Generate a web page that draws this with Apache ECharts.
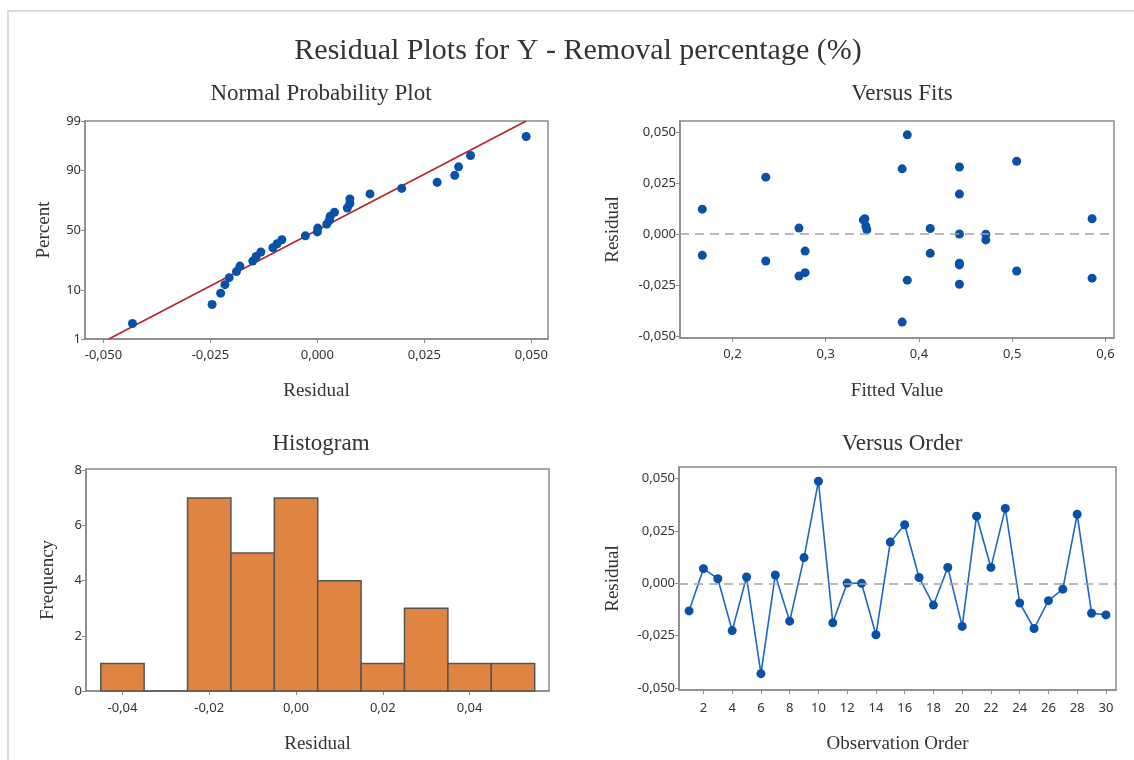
<!DOCTYPE html>
<html>
<head>
<meta charset="utf-8">
<title>Residual Plots for Y - Removal percentage (%)</title>
<script src="https://cdn.jsdelivr.net/npm/echarts@6/dist/echarts.min.js"></script>
<style>
  html, body { margin: 0; padding: 0; background: #ffffff; }
  #chart { width: 1134px; height: 760px; }
</style>
</head>
<body>
<div id="chart"></div>
<script>
// ---- data ----
const observationOrder = [1, 2, 3, 4, 5, 6, 7, 8, 9, 10, 11, 12, 13, 14, 15, 16, 17, 18, 19, 20, 21, 22, 23, 24, 25, 26, 27, 28, 29, 30];
const residuals = [-0.0132, 0.0070, 0.0022, -0.0226, 0.0030, -0.0432, 0.0040, -0.0181, 0.0123, 0.0488,
                   -0.0189, 0.0001, 0.0000, -0.0246, 0.0197, 0.0280, 0.0028, -0.0104, 0.0076, -0.0206,
                   0.0321, 0.0076, 0.0358, -0.0094, -0.0216, -0.0083, -0.0028, 0.0330, -0.0143, -0.0151];
const fittedValues = [0.2357, 0.3404, 0.3441, 0.3875, 0.2713, 0.3820, 0.3430, 0.5048, 0.1676, 0.3875,
                      0.2779, 0.4434, 0.4717, 0.4434, 0.4434, 0.2357, 0.4121, 0.1676, 0.5857, 0.2713,
                      0.3820, 0.3420, 0.5048, 0.4121, 0.5857, 0.2779, 0.4717, 0.4434, 0.4434, 0.4434];
const histBinCenters = [-0.04, -0.03, -0.02, -0.01, 0.00, 0.01, 0.02, 0.03, 0.04, 0.05];
const histCounts = [1, 0, 7, 5, 7, 4, 1, 3, 1, 1];
const histBinWidth = 0.01;

// tick labels
const probPercentTicks = [1, 10, 50, 90, 99];
const probResidualTicks = [-0.05, -0.025, 0, 0.025, 0.05];
const fitsTicks = [0.2, 0.3, 0.4, 0.5, 0.6];
const residualTicks = [-0.05, -0.025, 0, 0.025, 0.05];
const histResidualTicks = [-0.04, -0.02, 0, 0.02, 0.04];
const frequencyTicks = [0, 2, 4, 6, 8];
const orderTicks = [2, 4, 6, 8, 10, 12, 14, 16, 18, 20, 22, 24, 26, 28, 30];

// ---- helpers ----
// inverse standard normal CDF (Acklam's rational approximation) for the probability scale
function normInv(p) {
  const a = [-3.969683028665376e+01, 2.209460984245205e+02, -2.759285104469687e+02, 1.383577518672690e+02, -3.066479806614716e+01, 2.506628277459239e+00];
  const b = [-5.447609879822406e+01, 1.615858368580409e+02, -1.556989798598866e+02, 6.680131188771972e+01, -1.328068155288572e+01];
  const c = [-7.784894002430293e-03, -3.223964580411365e-01, -2.400758277161838e+00, -2.549732539343734e+00, 4.374664141464968e+00, 2.938163982698783e+00];
  const d = [7.784695709041462e-03, 3.224671290700398e-01, 2.445134137142996e+00, 3.754408661907416e+00];
  const pl = 0.02425, ph = 1 - pl;
  let q, r;
  if (p < pl) {
    q = Math.sqrt(-2 * Math.log(p));
    return (((((c[0] * q + c[1]) * q + c[2]) * q + c[3]) * q + c[4]) * q + c[5]) / ((((d[0] * q + d[1]) * q + d[2]) * q + d[3]) * q + 1);
  }
  if (p <= ph) {
    q = p - 0.5; r = q * q;
    return (((((a[0] * r + a[1]) * r + a[2]) * r + a[3]) * r + a[4]) * r + a[5]) * q / (((((b[0] * r + b[1]) * r + b[2]) * r + b[3]) * r + b[4]) * r + 1);
  }
  q = Math.sqrt(-2 * Math.log(1 - p));
  return -(((((c[0] * q + c[1]) * q + c[2]) * q + c[3]) * q + c[4]) * q + c[5]) / ((((d[0] * q + d[1]) * q + d[2]) * q + d[3]) * q + 1);
}
// decimal comma, no "-0,000"
const commaNum = (v, dec) => {
  const s = v.toFixed(dec);
  return (/^-0\.0*$/.test(s) ? s.slice(1) : s).replace('.', ',');
};

// normal probability plot: sorted residuals against median-rank plotting positions
const n = residuals.length;
const sorted = residuals.slice().sort((x, y) => x - y);
const probPoints = sorted.map((r, i) => [r, normInv((i + 1 - 0.3) / (n + 0.4))]);
const mean = residuals.reduce((s, v) => s + v, 0) / n;
const sd = Math.sqrt(residuals.reduce((s, v) => s + (v - mean) * (v - mean), 0) / (n - 1));
const zLo = normInv(probPercentTicks[0] / 100);
const zHi = normInv(probPercentTicks[probPercentTicks.length - 1] / 100);
const fitLine = [[mean + zLo * sd, zLo], [mean + zHi * sd, zHi]];
const zTickValues = probPercentTicks.map(p => normInv(p / 100));
const zToPercent = z => {
  let best = probPercentTicks[0], bd = Infinity;
  probPercentTicks.forEach(p => { const dd = Math.abs(normInv(p / 100) - z); if (dd < bd) { bd = dd; best = p; } });
  return String(best);
};

const histData = histBinCenters.map((c, i) => [c - histBinWidth / 2, c + histBinWidth / 2, histCounts[i]]);
const fitsData = fittedValues.map((f, i) => [f, residuals[i]]);
const orderData = observationOrder.map((o, i) => [o, residuals[i]]);

// ---- styling ----
const FRAME = '#8a8a8a';
const BLUE = '#0552a8';
const SERIF = '"Liberation Serif", "Times New Roman", serif';
const SANS = '"Noto Sans", "DejaVu Sans", sans-serif';

function valueAxis(opts) {
  return Object.assign({
    type: 'value',
    scale: true,
    nameLocation: 'middle',
    nameTextStyle: { fontFamily: SERIF, fontSize: 19, color: '#333' },
    axisLine: { show: true, onZero: false, lineStyle: { color: FRAME, width: 1.5 } },
    axisTick: { show: true, length: 4, lineStyle: { color: FRAME, width: 1 } },
    axisLabel: { fontFamily: SANS, fontSize: 13, color: '#333', margin: 4 },
    splitLine: { show: false }
  }, opts);
}
function withTicks(axis, values, fmt, margin) {
  axis.axisTick = Object.assign({}, axis.axisTick, { customValues: values });
  axis.axisLabel = Object.assign({}, axis.axisLabel, { customValues: values, formatter: fmt });
  if (margin !== undefined) axis.axisLabel.margin = margin;
  return axis;
}
const zeroLine = {
  silent: true, symbol: 'none', label: { show: false },
  lineStyle: { type: [9, 6], color: '#a3a3a3', width: 1.6 },
  data: [{ yAxis: 0 }]
};
const subTitle = (text, x, top) => ({
  text, left: x, top, textAlign: 'center',
  textStyle: { fontFamily: SERIF, fontSize: 23, fontWeight: 'normal', color: '#333' }
});

const gridBase = { show: true, borderColor: FRAME, borderWidth: 1.5, backgroundColor: '#fff' };

const chart = echarts.init(document.getElementById('chart'), null, { renderer: 'canvas' });
chart.setOption({
  animation: false,
  backgroundColor: '#ffffff',
  textStyle: { fontFamily: SANS },
  graphic: [{
    type: 'rect', silent: true, z: -10,
    shape: { x: 8, y: 11, width: 1160, height: 780 },
    style: { fill: 'none', stroke: '#dcdcdc', lineWidth: 2 }
  }],
  title: [
    { text: 'Residual Plots for Y - Removal percentage (%)', left: 573, top: 31, textAlign: 'center',
      textStyle: { fontFamily: SERIF, fontSize: 30, fontWeight: 'normal', color: '#333' } },
    subTitle('Normal Probability Plot', 316, 77),
    subTitle('Versus Fits', 897, 77),
    subTitle('Histogram', 316, 427),
    subTitle('Versus Order', 897, 427)
  ],
  grid: [
    Object.assign({ left: 85, top: 121, width: 463, height: 218 }, gridBase),
    Object.assign({ left: 680, top: 121, width: 434, height: 217 }, gridBase),
    Object.assign({ left: 86, top: 469, width: 463, height: 222 }, gridBase),
    Object.assign({ left: 679, top: 467, width: 437, height: 223 }, gridBase)
  ],
  xAxis: [
    withTicks(valueAxis({ gridIndex: 0, min: -0.0543, max: 0.0539, name: 'Residual', nameGap: 43 }),
      probResidualTicks, v => commaNum(v, 3), 10),
    withTicks(valueAxis({ gridIndex: 1, min: 0.1437, max: 0.6092, name: 'Fitted Value', nameGap: 44 }),
      fitsTicks, v => commaNum(v, 1), 10),
    withTicks(valueAxis({ gridIndex: 2, min: -0.0484, max: 0.0583, name: 'Residual', nameGap: 44 }),
      histResidualTicks, v => commaNum(v, 2), 11),
    withTicks(valueAxis({ gridIndex: 3, min: 0.3, max: 30.7, name: 'Observation Order', nameGap: 45 }),
      orderTicks, v => String(Math.round(v)), 12)
  ],
  yAxis: [
    withTicks(valueAxis({ gridIndex: 0, min: zLo, max: zHi, name: 'Percent', nameGap: 31 }),
      zTickValues, v => zToPercent(v)),
    withTicks(valueAxis({ gridIndex: 1, min: -0.051, max: 0.0556, name: 'Residual', nameGap: 57 }),
      residualTicks, v => commaNum(v, 3)),
    withTicks(valueAxis({ gridIndex: 2, min: 0, max: 8.05, name: 'Frequency', nameGap: 28 }),
      frequencyTicks, v => String(Math.round(v))),
    withTicks(valueAxis({ gridIndex: 3, min: -0.051, max: 0.0556, name: 'Residual', nameGap: 56 }),
      residualTicks, v => commaNum(v, 3))
  ],
  series: [
    {
      name: 'Fit', type: 'line', xAxisIndex: 0, yAxisIndex: 0, data: fitLine,
      symbol: 'none', silent: true, z: 2,
      lineStyle: { color: '#b0262a', width: 1.6 }
    },
    {
      name: 'Normal probability', type: 'scatter', xAxisIndex: 0, yAxisIndex: 0, data: probPoints,
      symbolSize: 9, z: 3, itemStyle: { color: BLUE, opacity: 1 }
    },
    {
      name: 'Versus fits', type: 'scatter', xAxisIndex: 1, yAxisIndex: 1, data: fitsData,
      symbolSize: 9, z: 3, itemStyle: { color: BLUE, opacity: 1 },
      markLine: zeroLine
    },
    {
      name: 'Histogram', type: 'custom', xAxisIndex: 2, yAxisIndex: 2, data: histData,
      encode: { x: [0, 1], y: 2 },
      renderItem: function (params, api) {
        const p0 = api.coord([api.value(0), api.value(2)]);
        const p1 = api.coord([api.value(1), 0]);
        return {
          type: 'rect',
          shape: { x: p0[0], y: p0[1], width: p1[0] - p0[0], height: p1[1] - p0[1] },
          style: { fill: '#e08442', stroke: '#555555', lineWidth: 1.5 }
        };
      }
    },
    {
      name: 'Versus order', type: 'line', xAxisIndex: 3, yAxisIndex: 3, data: orderData,
      symbol: 'circle', symbolSize: 9, z: 3,
      itemStyle: { color: BLUE, opacity: 1 },
      lineStyle: { color: '#1d66c2', width: 1.6 },
      markLine: zeroLine
    }
  ]
});
</script>
</body>
</html>
